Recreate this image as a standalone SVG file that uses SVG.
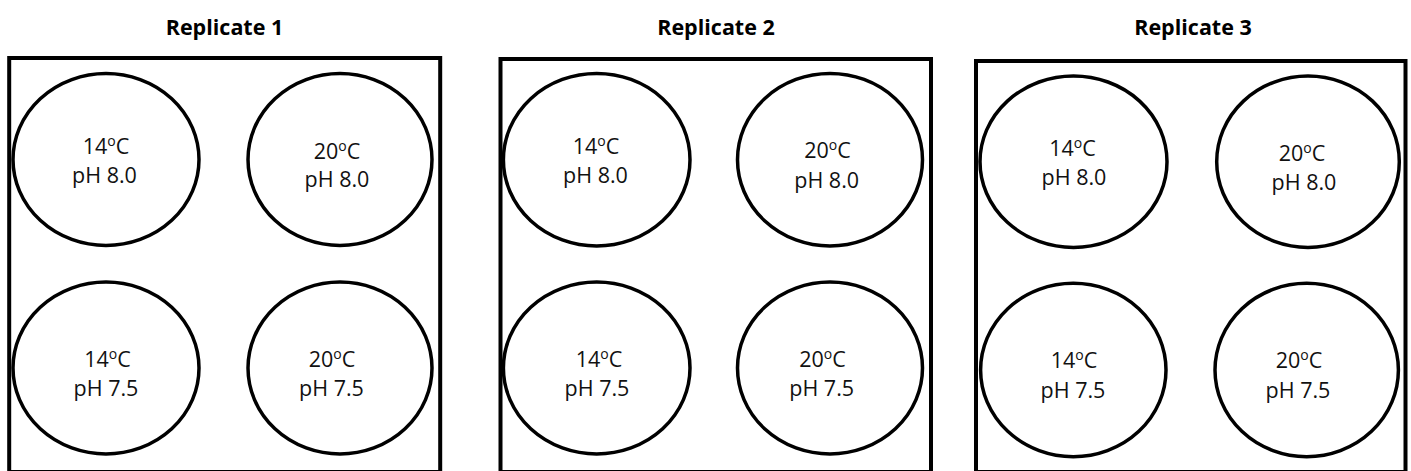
<svg xmlns="http://www.w3.org/2000/svg" width="1411" height="471" viewBox="0 0 1411 471">
<style>
.box{fill:none;stroke:#000;stroke-width:4}
.well{fill:#fff;stroke:#000;stroke-width:3.5}
.t{font-family:"Open Sans","Liberation Sans",sans-serif;font-size:21.5px;fill:#111;text-anchor:middle}
.sup{font-size:14px}
.title{font-family:"Open Sans","Liberation Sans",sans-serif;font-size:21.5px;font-weight:bold;fill:#000;text-anchor:middle}
</style>
<rect width="1411" height="471" fill="#fff"/>
<g id="replicate1">
<text class="title" x="224.5" y="35">Replicate 1</text>
<rect class="box" x="9.2" y="58" width="431" height="414"/>
<g id="r1-tl"><ellipse class="well" cx="106" cy="159.5" rx="93" ry="86"/><text class="t" x="106" y="154">14<tspan class="sup" dy="-8">o</tspan><tspan dy="8">C</tspan></text><text class="t" x="104.5" y="183">pH 8.0</text></g>
<g id="r1-tr"><ellipse class="well" cx="340" cy="159.5" rx="92" ry="86"/><text class="t" x="337" y="159">20<tspan class="sup" dy="-8">o</tspan><tspan dy="8">C</tspan></text><text class="t" x="337" y="187">pH 8.0</text></g>
<g id="r1-bl"><ellipse class="well" cx="106" cy="368" rx="93" ry="86"/><text class="t" x="107.5" y="367">14<tspan class="sup" dy="-8">o</tspan><tspan dy="8">C</tspan></text><text class="t" x="106" y="396">pH 7.5</text></g>
<g id="r1-br"><ellipse class="well" cx="340" cy="368" rx="92" ry="86"/><text class="t" x="332" y="367">20<tspan class="sup" dy="-8">o</tspan><tspan dy="8">C</tspan></text><text class="t" x="331.5" y="396">pH 7.5</text></g>
</g>
<g id="replicate2">
<text class="title" x="716" y="35">Replicate 2</text>
<rect class="box" x="500.5" y="59" width="430.5" height="413"/>
<g id="r2-tl"><ellipse class="well" cx="596.7" cy="159.7" rx="93.3" ry="86.3"/><text class="t" x="596" y="154">14<tspan class="sup" dy="-8">o</tspan><tspan dy="8">C</tspan></text><text class="t" x="595.5" y="183">pH 8.0</text></g>
<g id="r2-tr"><ellipse class="well" cx="830" cy="159.7" rx="92.5" ry="86.3"/><text class="t" x="827.5" y="158">20<tspan class="sup" dy="-8">o</tspan><tspan dy="8">C</tspan></text><text class="t" x="826.7" y="188">pH 8.0</text></g>
<g id="r2-bl"><ellipse class="well" cx="596.7" cy="368" rx="93.3" ry="86"/><text class="t" x="599" y="366.7">14<tspan class="sup" dy="-8">o</tspan><tspan dy="8">C</tspan></text><text class="t" x="597" y="396">pH 7.5</text></g>
<g id="r2-br"><ellipse class="well" cx="830" cy="368" rx="92.5" ry="86"/><text class="t" x="822.5" y="366.7">20<tspan class="sup" dy="-8">o</tspan><tspan dy="8">C</tspan></text><text class="t" x="821.7" y="396">pH 7.5</text></g>
</g>
<g id="replicate3">
<text class="title" x="1193" y="35">Replicate 3</text>
<rect class="box" x="976" y="61" width="429.5" height="411"/>
<g id="r3-tl"><ellipse class="well" cx="1073.5" cy="161.7" rx="93.5" ry="85.7"/><text class="t" x="1072.5" y="155.7">14<tspan class="sup" dy="-8">o</tspan><tspan dy="8">C</tspan></text><text class="t" x="1074" y="185">pH 8.0</text></g>
<g id="r3-tr"><ellipse class="well" cx="1308" cy="161.7" rx="91.3" ry="85.7"/><text class="t" x="1302" y="160.7">20<tspan class="sup" dy="-8">o</tspan><tspan dy="8">C</tspan></text><text class="t" x="1304" y="190">pH 8.0</text></g>
<g id="r3-bl"><ellipse class="well" cx="1073.3" cy="370" rx="92.7" ry="86.7"/><text class="t" x="1074" y="368.3">14<tspan class="sup" dy="-8">o</tspan><tspan dy="8">C</tspan></text><text class="t" x="1073" y="398.3">pH 7.5</text></g>
<g id="r3-br"><ellipse class="well" cx="1306.7" cy="370" rx="91.7" ry="86.7"/><text class="t" x="1299" y="368">20<tspan class="sup" dy="-8">o</tspan><tspan dy="8">C</tspan></text><text class="t" x="1298" y="398">pH 7.5</text></g>
</g>
<g id="connectors"/>
</svg>
